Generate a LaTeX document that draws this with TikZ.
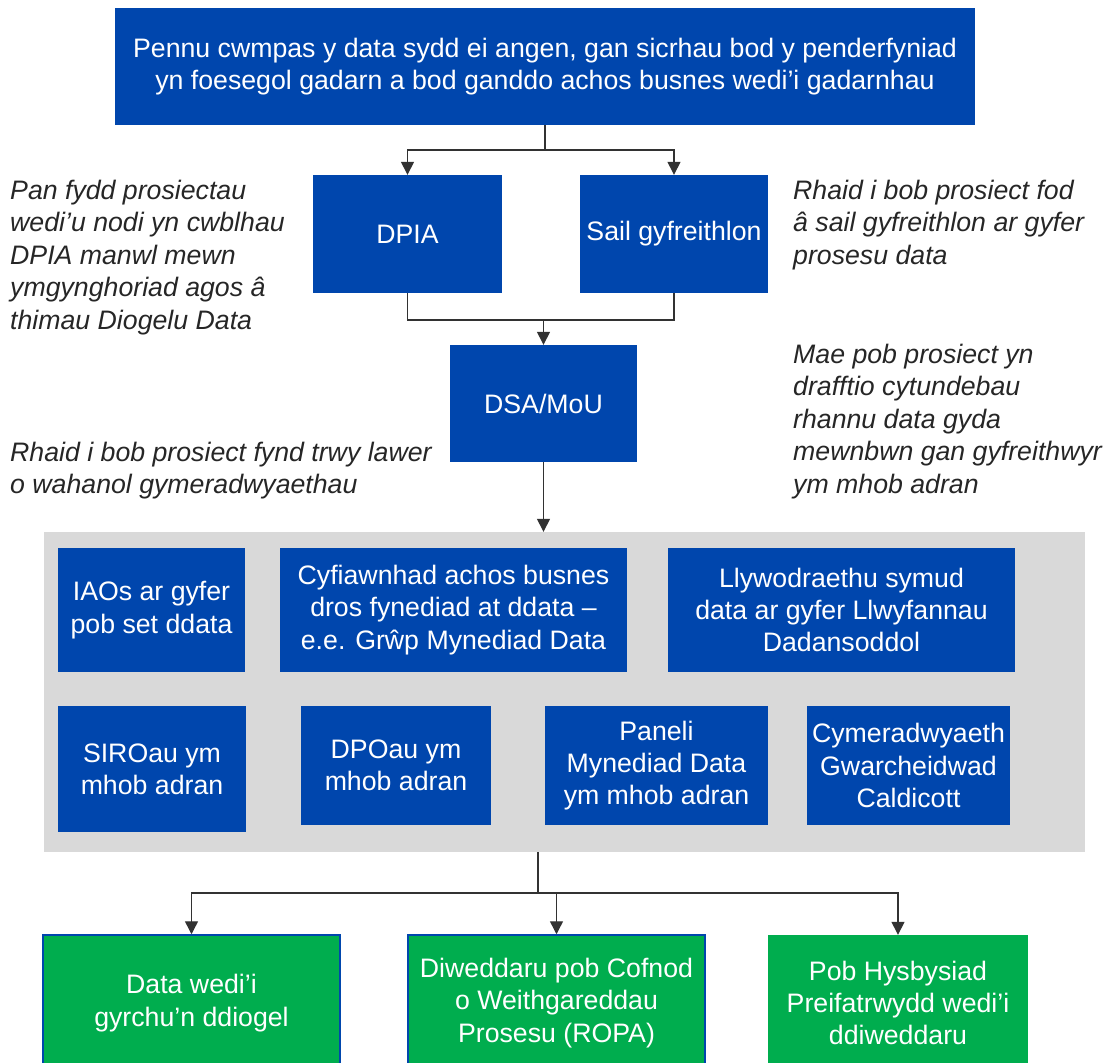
\documentclass[tikz,border=0pt]{standalone}
\usepackage{fontspec}
\setmainfont{Liberation Sans}
\usetikzlibrary{arrows.meta,calc}
\definecolor{cblue}{RGB}{0,70,173}
\definecolor{cgreen}{RGB}{0,173,78}
\definecolor{cgray}{RGB}{217,217,217}
\definecolor{cline}{RGB}{50,50,50}
\definecolor{ctext}{RGB}{38,38,38}
\tikzset{
  bbox/.style={fill=cblue, draw=none, text=white, align=center, inner sep=0pt,
    font=\fontsize{26.8}{32.5}\selectfont},
  gbox/.style={fill=cgreen, draw=none, text=white, align=center, inner sep=0pt,
    font=\fontsize{26.8}{32.5}\selectfont},
  gboxb/.style={gbox, draw=cblue, line width=1.5bp},
  side/.style={text=ctext, align=left, inner sep=0pt, anchor=north west,
    font=\fontsize{26.8}{32.5}\selectfont\itshape},
  conn/.style={draw=cline, line width=1.4bp},
  arr/.style={conn, -{Triangle[width=13bp,length=13bp]}},
}
\begin{document}
\begin{tikzpicture}[x=1bp,y=-1bp]
\useasboundingbox (0,0) rectangle (1113,1063);
% top
\node[bbox, minimum width=860bp, minimum height=117bp] (top) at (545,66.5)
  {Pennu cwmpas y data sydd ei angen, gan sicrhau bod y penderfyniad\\yn foesegol gadarn a bod ganddo achos busnes wedi’i gadarnhau};
\node[bbox, minimum width=189bp, minimum height=118bp] (dpia) at (407.5,234) {DPIA};
\node[bbox, minimum width=188bp, minimum height=118bp] (sail) at (674,234) {Sail gyfreithlon};
\node[bbox, minimum width=187bp, minimum height=117bp] (dsa) at (543.5,403.5) {DSA/MoU};
% side texts
\node[side] (t1) at (10,180) {Pan fydd prosiectau\\wedi'u nodi yn cwblhau\\DPIA manwl mewn\\ymgynghoriad agos â\\thimau Diogelu Data};
\node[side] (t2) at (793,180) {Rhaid i bob prosiect fod\\â sail gyfreithlon ar gyfer\\prosesu data};
\node[side] (t3) at (793,344) {Mae pob prosiect yn\\drafftio cytundebau\\rhannu data gyda\\mewnbwn gan gyfreithwyr\\ym mhob adran};
\node[side] (t4) at (10,442) {Rhaid i bob prosiect fynd trwy lawer\\o wahanol gymeradwyaethau};
% panel
\node[fill=cgray, minimum width=1041bp, minimum height=320bp, inner sep=0pt] (panel) at (564.5,692) {};
\node[bbox, minimum width=187bp, minimum height=124bp] (iao) at (151.5,610) {IAOs ar gyfer\\pob set ddata};
\node[bbox, minimum width=347bp, minimum height=124bp] (cyf) at (453.5,610) {Cyfiawnhad achos busnes\\dros fynediad at ddata –\\e.e. Grŵp Mynediad Data};
\node[bbox, minimum width=347bp, minimum height=124bp] (llyw) at (841.5,610) {Llywodraethu symud\\data ar gyfer Llwyfannau\\Dadansoddol};
\node[bbox, minimum width=188bp, minimum height=126bp] (siro) at (152,769) {SIROau ym\\mhob adran};
\node[bbox, minimum width=190bp, minimum height=119bp] (dpo) at (396,765.5) {DPOau ym\\mhob adran};
\node[bbox, minimum width=223bp, minimum height=119bp] (pan) at (656.5,765.5) {Paneli\\Mynediad Data\\ym mhob adran};
\node[bbox, minimum width=203bp, minimum height=119bp] (cym) at (908.5,765.5) {Cymeradwyaeth\\Gwarcheidwad\\Caldicott};
% green
\node[gboxb, minimum width=297bp, minimum height=136bp] (g1) at (191.5,1003) {Data wedi’i\\gyrchu’n ddiogel};
\node[gboxb, minimum width=297bp, minimum height=136bp] (g2) at (556.5,1003) {Diweddaru pob Cofnod\\o Weithgareddau\\Prosesu (ROPA)};
\node[gbox, minimum width=260bp, minimum height=136bp] (g3) at (898,1003) {Pob Hysbysiad\\Preifatrwydd wedi'i\\ddiweddaru};
% connectors
\coordinate (j1) at (545,150);
\draw[conn] (top.south) -- (j1);
\draw[arr] (j1) -| (dpia.north);
\draw[arr] (j1) -| (sail.north);
\coordinate (j2) at (543.5,320);
\draw[conn] (dpia.south) |- (j2);
\draw[conn] (sail.south) |- (j2);
\draw[arr] (j2) -- (dsa.north);
\draw[arr] (dsa.south) -- (dsa.south |- panel.north);
\coordinate (j3) at (538,893);
\draw[conn] (j3 |- panel.south) -- (j3);
\draw[arr] (j3) -| (g1.north);
\draw[arr] (j3) -| (g2.north);
\draw[arr] (j3) -| (g3.north);
\end{tikzpicture}
\end{document}
